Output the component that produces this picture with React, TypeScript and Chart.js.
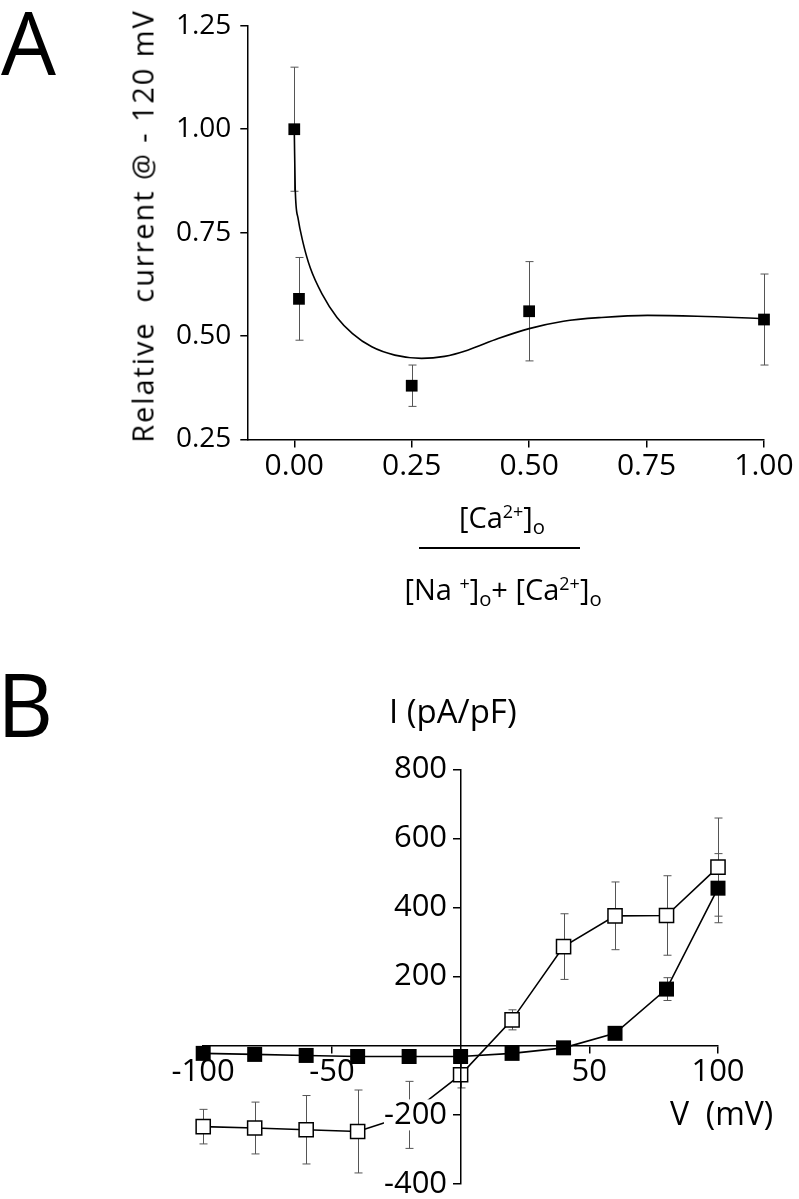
import React, { useEffect, useRef } from "react";
import { Chart, registerables } from "chart.js";

Chart.register(...registerables);

const FONT = "'Open Sans', 'DejaVu Sans', sans-serif";

// ---------- Panel A : relative current vs Ca fraction ----------
const ratioA = [0, 0.01, 0.25, 0.5, 1.0];
const relCurrentA = [1.0, 0.59, 0.38, 0.56, 0.54];
const relErrA = [0.15, 0.1, 0.05, 0.12, 0.11];
// fitted curve
const fitRatioA = [0, 0.002, 0.008, 0.018, 0.034, 0.059, 0.091, 0.124, 0.165, 0.214, 0.271, 0.32, 0.369, 0.434, 0.5, 0.573, 0.654, 0.752, 0.858, 1.0];
const fitCurrentA = [1.0, 0.857, 0.785, 0.729, 0.665, 0.602, 0.545, 0.506, 0.474, 0.454, 0.446, 0.451, 0.466, 0.494, 0.518, 0.536, 0.545, 0.55, 0.548, 0.542];
const xTicksA = [0, 0.25, 0.5, 0.75, 1.0];
const xTickLabelsA = ["0.00", "0.25", "0.50", "0.75", "1.00"];
const yTicksA = [0.25, 0.5, 0.75, 1.0, 1.25];
const yTickLabelsA = ["0.25", "0.50", "0.75", "1.00", "1.25"];

// ---------- Panel B : I-V relation ----------
const voltagesB = [-100, -80, -60, -40, -20, 0, 20, 40, 60, 80, 100];
const openCurrentB = [-234, -238, -243, -248, -200, -84, 75, 287, 376, 377, 517];
const openErrB = [50, 75, 99, 120, 97, 38, 29, 95, 98, 115, 142];
const filledCurrentB = [-22, -25, -28, -31, -31, -31, -22, -6, 36, 164, 456];
const filledErrB = [0, 0, 0, 0, 0, 0, 0, 0, 0, 33, 100];
const xTicksB = [-100, -50, 50, 100];
const xTickLabelsB = ["-100", "-50", "50", "100"];
const yTicksB = [-400, -200, 200, 400, 600, 800];
const yTickLabelsB = ["-400", "-200", "200", "400", "600", "800"];

type ErrSeries = { xs: number[]; ys: number[]; errs: number[] };

function errorBarPlugin(series: ErrSeries[], cap: number) {
  return {
    id: "errorBars",
    beforeDatasetsDraw(chart: any) {
      const { ctx } = chart;
      const sx = chart.scales.x;
      const sy = chart.scales.y;
      ctx.save();
      ctx.strokeStyle = "#555";
      ctx.lineWidth = 1;
      for (const s of series) {
        s.xs.forEach((xv, i) => {
          const e = s.errs[i];
          if (!e) return;
          const px = Math.round(sx.getPixelForValue(xv)) + 0.5;
          const top = sy.getPixelForValue(s.ys[i] + e);
          const bot = sy.getPixelForValue(s.ys[i] - e);
          ctx.beginPath();
          ctx.moveTo(px, top);
          ctx.lineTo(px, bot);
          ctx.moveTo(px - cap, top);
          ctx.lineTo(px + cap, top);
          ctx.moveTo(px - cap, bot);
          ctx.lineTo(px + cap, bot);
          ctx.stroke();
        });
      }
      ctx.restore();
    },
  };
}

const axisGrid = (len: number) => ({
  display: true,
  drawOnChartArea: false,
  drawTicks: true,
  tickLength: len,
  color: "#000",
  lineWidth: 1.5,
});
const axisBorder = { display: true, color: "#000", width: 1.5 };

function ChartA() {
  const ref = useRef<HTMLCanvasElement | null>(null);
  useEffect(() => {
    if (!ref.current) return;
    const chart = new Chart(ref.current, {
      type: "scatter",
      data: {
        datasets: [
          {
            data: ratioA.map((x, i) => ({ x, y: relCurrentA[i] })),
            showLine: false,
            clip: false,
            pointStyle: "rect",
            pointRadius: 8.3,
            pointHoverRadius: 8.3,
            backgroundColor: "#000",
            borderColor: "#000",
            borderWidth: 0,
          },
          {
            data: fitRatioA.map((x, i) => ({ x, y: fitCurrentA[i] })),
            showLine: true,
            clip: false,
            borderColor: "#000",
            borderWidth: 1.6,
            pointRadius: 0,
            cubicInterpolationMode: "monotone",
          },
        ],
      },
      options: {
        animation: false,
        responsive: false,
        maintainAspectRatio: false,
        events: [],
        layout: { padding: { left: 147.3, top: 22.7, right: 35, bottom: 0 } },
        plugins: { legend: { display: false }, tooltip: { enabled: false } },
        scales: {
          x: {
            type: "linear",
            min: -0.1,
            max: 1.0,
            afterBuildTicks: (s: any) => {
              s.ticks = xTicksA.map((v) => ({ value: v }));
            },
            afterFit: (s: any) => {
              s.height = 60.5;
            },
            grid: axisGrid(8),
            border: axisBorder,
            ticks: {
              callback: (_v: any, i: number) => xTickLabelsA[i],
              font: { family: FONT, size: 30 },
              color: "#000",
              padding: 1,
              maxRotation: 0,
              autoSkip: false,
            },
          },
          y: {
            type: "linear",
            min: 0.25,
            max: 1.25,
            afterBuildTicks: (s: any) => {
              s.ticks = yTicksA.map((v) => ({ value: v }));
            },
            afterFit: (s: any) => {
              s.width = 100;
            },
            grid: axisGrid(7),
            border: axisBorder,
            ticks: {
              callback: (_v: any, i: number) => yTickLabelsA[i],
              font: { family: FONT, size: 28 },
              color: "#000",
              padding: 9,
              autoSkip: false,
            },
          },
        },
      },
      plugins: [errorBarPlugin([{ xs: ratioA, ys: relCurrentA, errs: relErrA }], 4)],
    } as any);
    return () => chart.destroy();
  }, []);
  return (
    <canvas
      ref={ref}
      width={799}
      height={500}
      style={{ position: "absolute", left: 0, top: 0, width: 799, height: 500 }}
    />
  );
}

function ChartB() {
  const ref = useRef<HTMLCanvasElement | null>(null);
  useEffect(() => {
    if (!ref.current) return;
    const chart = new Chart(ref.current, {
      type: "scatter",
      data: {
        datasets: [
          {
            data: voltagesB.map((x, i) => ({ x, y: filledCurrentB[i] })),
            showLine: true,
            clip: false,
            borderColor: "#000",
            borderWidth: 1.6,
            pointStyle: "rect",
            pointRadius: 10.6,
            pointHoverRadius: 10.6,
            pointBackgroundColor: "#000",
            pointBorderColor: "#000",
            pointBorderWidth: 0,
          },
          {
            data: voltagesB.map((x, i) => ({ x, y: openCurrentB[i] })),
            showLine: true,
            clip: false,
            borderColor: "#000",
            borderWidth: 1.6,
            pointStyle: "rect",
            pointRadius: 10,
            pointHoverRadius: 10,
            pointBackgroundColor: "#fff",
            pointBorderColor: "#000",
            pointBorderWidth: 1.5,
          },
        ],
      },
      options: {
        animation: false,
        responsive: false,
        maintainAspectRatio: false,
        events: [],
        layout: { padding: { left: 203.2, top: 129.3, right: 81, bottom: 26 } },
        plugins: { legend: { display: false }, tooltip: { enabled: false } },
        scales: {
          x: {
            type: "linear",
            min: -100,
            max: 100,
            position: { y: 0 },
            afterBuildTicks: (s: any) => {
              s.ticks = xTicksB.map((v) => ({ value: v }));
            },
            grid: axisGrid(7),
            border: axisBorder,
            ticks: {
              callback: (_v: any, i: number) => xTickLabelsB[i],
              font: { family: FONT, size: 31 },
              color: "#000",
              padding: 1,
              maxRotation: 0,
              autoSkip: false,
            },
          },
          y: {
            type: "linear",
            min: -400,
            max: 800,
            position: "center",
            afterBuildTicks: (s: any) => {
              s.ticks = yTicksB.map((v) => ({ value: v }));
            },
            grid: axisGrid(7),
            border: { ...axisBorder, z: 1 },
            ticks: {
              callback: (_v: any, i: number) => yTickLabelsB[i],
              font: { family: FONT, size: 31, lineHeight: 1 },
              color: "#000",
              padding: 6.5,
              autoSkip: false,
              z: 1,
              showLabelBackdrop: true,
              backdropColor: "#fff",
              backdropPadding: 0,
            },
          },
        },
      },
      plugins: [
        errorBarPlugin(
          [
            { xs: voltagesB, ys: openCurrentB, errs: openErrB },
            { xs: voltagesB, ys: filledCurrentB, errs: filledErrB },
          ],
          4
        ),
      ],
    } as any);
    return () => chart.destroy();
  }, []);
  return (
    <canvas
      ref={ref}
      width={799}
      height={570}
      style={{ position: "absolute", left: 0, top: 640, width: 799, height: 570 }}
    />
  );
}

const txt = (size: number): React.CSSProperties => ({
  position: "absolute",
  fontFamily: FONT,
  fontSize: size,
  lineHeight: `${size}px`,
  color: "#000",
  whiteSpace: "pre",
});

const supStyle: React.CSSProperties = { fontSize: "0.62em", verticalAlign: "0.55em", lineHeight: 0 };
const subStyle: React.CSSProperties = { fontSize: "0.7em", verticalAlign: "-0.3em", lineHeight: 0 };

export default function App() {
  return (
    <div
      style={{
        position: "absolute",
        left: 0,
        top: 0,
        width: 799,
        height: 1199,
        overflow: "hidden",
        background: "#fff",
      }}
    >
      <ChartA />
      <ChartB />
      <div style={{ ...txt(87), left: 1, top: -2 }}>A</div>
      <div style={{ ...txt(87), left: -3, top: 660 }}>B</div>
      <div
        style={{
          ...txt(29),
          left: 142,
          top: 226,
          letterSpacing: 1.9,
          transform: "translate(-50%, -50%) rotate(-90deg)",
        }}
      >
        Relative  current @ - 120 mV
      </div>
      <div style={{ ...txt(29), left: 502, top: 528 - 0.888 * 29, transform: "translateX(-50%)" }}>
        [Ca<span style={supStyle}>2+</span>]<span style={subStyle}>o</span>
      </div>
      <div style={{ position: "absolute", left: 419, top: 547, width: 161, height: 1.5, background: "#000" }} />
      <div style={{ ...txt(29), left: 503, top: 600 - 0.888 * 29, transform: "translateX(-50%)" }}>
        [Na <span style={supStyle}>+</span>]<span style={subStyle}>o</span>+ [Ca<span style={supStyle}>2+</span>]
        <span style={subStyle}>o</span>
      </div>
      <div style={{ ...txt(33), left: 389, top: 723 - 0.888 * 33 }}>I (pA/pF)</div>
      <div style={{ ...txt(32), left: 670, top: 1125 - 0.888 * 32 }}>V  (mV)</div>
    </div>
  );
}
